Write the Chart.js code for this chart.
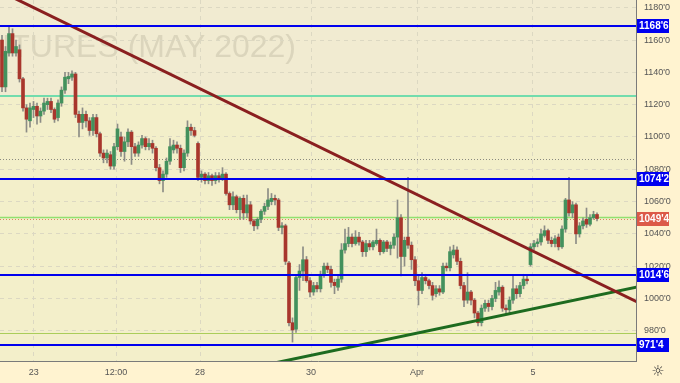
<!DOCTYPE html>
<html>
<head>
<meta charset="utf-8">
<script src="https://cdn.jsdelivr.net/npm/chart.js@4"></script>
<style>
  html, body { margin: 0; padding: 0; background: #fff3d0; }
</style>
</head>
<body>
<canvas id="chart" width="680" height="383"></canvas>
<script>
// 캔들 데이터 [open, high, low, close]
const candles = [
  [1160,1163,1128,1131],[1131,1156,1128,1153],[1152,1169,1150,1164],[1164,1167,1150,1152],
  [1152,1160,1150,1156],[1154,1157,1134,1136],[1136,1137,1116,1118],[1118,1120,1103,1111],
  [1110,1121,1106,1118],[1117,1122,1112,1119],[1119,1121,1108,1113],[1113,1118,1109,1116],
  [1116,1124,1114,1121],[1120,1124,1117,1122],[1122,1124,1115,1117],[1117,1118,1109,1111],
  [1112,1123,1110,1121],[1121,1131,1119,1129],[1129,1140,1127,1137],[1136,1140,1133,1137.5],
  [1137,1141,1135,1139],[1139,1140,1112,1114],[1114,1116,1100,1109],[1109,1118,1105,1114],
  [1114,1116,1106,1110],[1110,1112,1101,1104],[1104,1114,1101,1112],[1112,1114,1100,1102],
  [1102,1103,1088,1090],[1090,1092,1084,1087],[1087,1092,1084,1090],[1089,1091,1080,1082],
  [1082,1096,1080,1094],[1094,1108,1092,1105],[1100,1103,1088,1091],[1091,1100,1085,1097],
  [1097,1105,1094,1103],[1103,1104,1083,1094],[1094,1096,1088,1090],[1090,1097,1088,1095],
  [1095,1101,1093,1099],[1099,1100,1092,1094],[1094,1099,1092,1096],[1096,1098,1090,1093],
  [1093,1094,1079,1081],[1081,1083,1071,1073],[1073,1079,1066,1077],[1077,1087,1075,1085],
  [1085,1099,1083,1094],[1092,1098,1090,1095],[1095,1097,1090,1093],[1093,1095,1078,1081],
  [1081,1092,1079,1090],[1090,1110,1088,1106],[1106,1108,1101,1104],[1104,1106,1100,1101],
  [1096,1097,1073,1075],[1075,1079,1072,1077],[1077,1078,1071,1073],[1073,1078,1071,1076],
  [1076,1077,1070,1073],[1073,1078,1071,1076],[1076,1078,1072,1074],[1074,1081,1073,1077],
  [1077,1078,1064,1065],[1065,1066,1055,1058],[1058,1066,1055,1063],[1063,1064,1053,1055],
  [1055,1063,1049,1062],[1062,1064,1049,1053],[1053,1064,1050,1058],[1058,1060,1046,1048],
  [1048,1049,1042,1045],[1045,1050,1043,1049],[1049,1055,1047,1054],[1054,1059,1052,1057],
  [1057,1068,1055,1061],[1060,1065,1058,1062],[1062,1064,1058,1061],[1061,1062,1042,1044],
  [1044,1047,1040,1045],[1045,1046,1021,1023],[1022,1023,983,985],[985,988,973,980.5],
  [981,1015,979,1013],[1013,1021,1005,1017],[1017,1032,1011,1024],[1024,1026,1010,1011],
  [1011,1013,1001,1004],[1004,1010,1002,1008],[1008,1010,1004,1006],[1006,1017,1004,1015],
  [1015,1022,1013,1020],[1020,1022,1016,1018],[1018,1020,1007,1010],[1010,1012,1003,1008],
  [1007,1014,1005,1012],[1012,1034,1010,1030],[1030,1043,1028,1034],[1034,1044,1032,1038],
  [1038,1040,1032,1034],[1034,1042,1033,1038],[1038,1041,1033,1035],[1035,1036,1026,1029],
  [1029,1036,1026,1034],[1034,1036,1030,1032],[1032,1036,1030,1035],[1034,1043,1033,1036],
  [1036,1037,1027,1029],[1029,1036,1028,1035],[1035,1036,1029,1031],[1031,1035,1027,1033],
  [1033,1040,1031,1038],[1038,1061,1025,1050],[1050,1052,1014,1026],[1026,1038,1020,1036],
  [1038,1075,1031,1033],[1033,1035,1018,1024],[1024,1026,1008,1011],[1011,1014,996,1005],
  [1005,1016,1003,1013],[1013,1015,1009,1011],[1011,1012,1006,1008],[1008,1010,999,1002],
  [1003,1008,1001,1006],[1006,1008,1002,1004],[1004,1022,1003,1020],[1020,1022,1017,1019],
  [1019,1032,1017,1029],[1027,1033,1025,1030],[1030,1032,1021,1023],[1023,1025,1006,1008],
  [1008,1010,995,999],[999,1016,997,1004],[1004,1005,996,999],[999,1000,988,991],
  [991,992,983,985],[985,996,983,994],[994,999,992,997],[997,999,992,995],
  [995,1002,993,1000],[1000,1010,998,1005],[1004,1011,1002,1007],[1007,1008,992,994],
  [994,996,990,993],[993,1001,991,999],[999,1015,997,1006],[1006,1008,1000,1003],
  [1003,1010,1001,1008],[1008,1015,1006,1012],[1012,1014,1009,1011],[1021,1034,1020,1032],
  [1032,1036,1030,1034],[1034,1037,1032,1035],[1035,1043,1033,1040],[1039,1045,1038,1042],
  [1042,1043,1034,1036],[1036,1038,1032,1034],[1034,1039,1032,1037],[1038,1040,1030,1032],
  [1032,1045,1031,1043],[1043,1062,1041,1061],[1061,1075,1051,1053],[1053,1060,1050,1058],
  [1058,1059,1034,1040],[1040,1047,1038,1045],[1045,1050,1043,1048],[1049,1056,1044,1046],
  [1046,1052,1045,1050],[1050,1054,1049,1052],[1052,1053,1048,1049.5]
];

// 시간축 눈금 (캔들 인덱스 기준)
const timeTicks = [9.1, 32.6, 56.6, 88.3, 118.6, 151.7];
const timeLabels = ['23', '12:00', '28', '30', 'Apr', '5'];
const priceTicks = [980, 1000, 1020, 1040, 1060, 1080, 1100, 1120, 1140, 1160, 1180];

// 수평 레벨
const keyLevels = [1168.75, 1074.25, 1014.75, 971.5];
const lastPrice = 1049.5;
const prevLevel = 1050.6;
const zoneLevel = 1125.4;
const dotLevel = 1086.4;
const lowLevel = 978.5;

// 추세선 [index, price]
const trendDown = [[-1, 1190.7], [182, 997.3]];
const trendUp = [[70, 956.5], [182, 1007.4]];

const UP = '#43915d';
const DOWN = '#a8362c';

function fmt(v) {
  const whole = Math.floor(v);
  return whole + "'" + Math.round((v - whole) * 8);
}

const isUp = i => candles[i][3] >= candles[i][0];

const decor = {
  id: 'decor',
  beforeDraw(chart) {
    const { ctx, chartArea: a, scales: { y } } = chart;
    ctx.save();
    ctx.fillStyle = '#fff3d0';
    ctx.fillRect(0, 0, chart.width, chart.height);
    const yz = y.getPixelForValue(zoneLevel);
    ctx.fillStyle = '#f1ebd1';
    ctx.fillRect(a.left, a.top, a.width, yz - a.top);
    ctx.fillStyle = '#f3efca';
    ctx.fillRect(a.left, yz, a.width, a.bottom - yz);
    // 워터마크
    ctx.beginPath();
    ctx.rect(a.left, a.top, a.width, a.height);
    ctx.clip();
    ctx.font = '32px "Liberation Sans", Arial, sans-serif';
    ctx.fillStyle = 'rgba(110,105,90,0.17)';
    ctx.textAlign = 'right';
    ctx.textBaseline = 'alphabetic';
    ctx.fillText('FUTURES (MAY 2022)', a.left + 296, 57);
    ctx.restore();
  },
  beforeDatasetsDraw(chart) {
    const { ctx, chartArea: a, scales: { y } } = chart;
    const hline = (v, color, width, dash) => {
      const py = Math.round(y.getPixelForValue(v)) + (width % 2 ? 0.5 : 0);
      ctx.beginPath();
      ctx.strokeStyle = color;
      ctx.lineWidth = width;
      ctx.setLineDash(dash || []);
      ctx.moveTo(a.left, py);
      ctx.lineTo(a.right, py);
      ctx.stroke();
    };
    ctx.save();
    hline(zoneLevel, '#72dcad', 2);
    hline(dotLevel, '#8a8a80', 1, [1, 2]);
    hline(prevLevel, '#92e070', 1.5);
    hline(lastPrice, '#e0805f', 1, [1, 2]);
    hline(lowLevel, '#aacd5a', 1);
    ctx.restore();
  },
  afterDatasetsDraw(chart) {
    const { ctx, chartArea: a, scales: { y } } = chart;
    ctx.save();
    keyLevels.forEach(v => {
      const py = Math.round(y.getPixelForValue(v));
      ctx.beginPath();
      ctx.strokeStyle = '#0000ee';
      ctx.lineWidth = 2;
      ctx.moveTo(a.left, py);
      ctx.lineTo(a.right, py);
      ctx.stroke();
    });
    ctx.restore();
  },
  afterDraw(chart) {
    const { ctx, chartArea: a, scales: { y } } = chart;
    ctx.save();
    const tag = (v, color) => {
      const py = Math.round(y.getPixelForValue(v));
      ctx.fillStyle = color;
      ctx.fillRect(a.right + 1, py - 7, 32, 14);
      ctx.fillStyle = '#ffffff';
      ctx.font = 'bold 10px "Liberation Sans", Arial, sans-serif';
      ctx.textAlign = 'left';
      ctx.textBaseline = 'middle';
      ctx.fillText(fmt(v), a.right + 3, py + 0.5);
    };
    keyLevels.forEach(v => tag(v, '#0000f0'));
    tag(lastPrice, '#dc5a48');
    // 설정 아이콘
    ctx.fillStyle = '#333';
    ctx.font = '15px "DejaVu Sans", sans-serif';
    ctx.textAlign = 'center';
    ctx.textBaseline = 'middle';
    ctx.fillText('\u263C', a.right + 22, a.bottom + 11);
    ctx.restore();
  }
};

const ctx = document.getElementById('chart').getContext('2d');
new Chart(ctx, {
  type: 'bar',
  data: {
    datasets: [
      {
        type: 'line',
        data: trendDown.map(p => ({ x: p[0], y: p[1] })),
        borderColor: '#8a1f1f',
        borderWidth: 3,
        pointRadius: 0,
        order: 0
      },
      {
        type: 'line',
        data: trendUp.map(p => ({ x: p[0], y: p[1] })),
        borderColor: '#1d6b1f',
        borderWidth: 3,
        pointRadius: 0,
        order: 0
      },
      {
        data: candles.map((c, i) => ({ x: i, y: [c[0], c[3]] })),
        backgroundColor: c => isUp(c.dataIndex) ? UP : DOWN,
        barThickness: 3,
        minBarLength: 1,
        grouped: false,
        order: 1
      },
      {
        data: candles.map((c, i) => ({ x: i, y: [c[2], c[1]] })),
        backgroundColor: '#8c8c86',
        barThickness: 1,
        grouped: false,
        order: 2
      }
    ]
  },
  options: {
    responsive: false,
    animation: false,
    layout: { padding: 0 },
    plugins: { legend: { display: false }, tooltip: { enabled: false } },
    scales: {
      x: {
        type: 'linear',
        min: -0.571,
        max: 181.14,
        offset: false,
        afterBuildTicks: s => { s.ticks = timeTicks.map(v => ({ value: v })); },
        afterFit: s => {
          s.height = 22;
          s.paddingLeft = 0;
          s.paddingRight = 0;
        },
        ticks: {
          autoSkip: false,
          maxRotation: 0,
          padding: 6,
          color: '#555',
          font: { size: 9, family: '"Liberation Sans", Arial, sans-serif' },
          callback: (v, i) => timeLabels[i]
        },
        grid: { color: '#dcd8c2', drawTicks: false, offset: false },
        border: { display: true, color: '#7a7a7a', dash: [4, 4] }
      },
      y: {
        position: 'right',
        min: 961.3,
        max: 1184.8,
        afterBuildTicks: s => { s.ticks = priceTicks.map(v => ({ value: v })); },
        afterFit: s => {
          s.width = 44;
          s.paddingTop = 0;
          s.paddingBottom = 0;
        },
        ticks: {
          padding: 8,
          color: '#555',
          font: { size: 9, family: '"Liberation Sans", Arial, sans-serif' },
          callback: v => fmt(v)
        },
        grid: { color: '#dcd8c2', drawTicks: false },
        border: { display: true, color: '#7a7a7a', dash: [4, 4] }
      }
    }
  },
  plugins: [decor]
});
</script>
</body>
</html>
